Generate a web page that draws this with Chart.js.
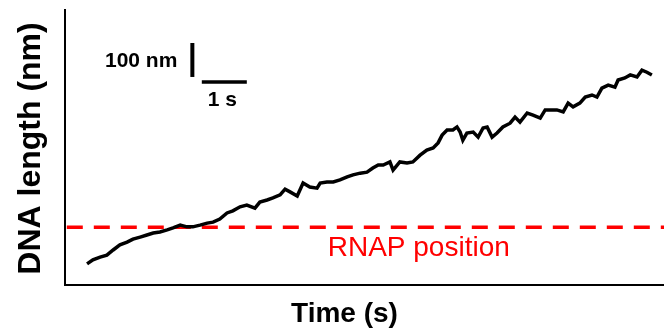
<!DOCTYPE html>
<html lang="en">
<head>
  <meta charset="UTF-8">
  <title>DNA length trace</title>
  <script src="https://cdn.jsdelivr.net/npm/chart.js"></script>
  <style>
    * {
      margin: 0;
      padding: 0;
      box-sizing: border-box;
    }
    body {
      background: #fff;
    }
    #traceChart {
      display: block;
    }
  </style>
</head>
<body>
  <canvas id="traceChart" width="664" height="329"></canvas>

  <script>
    // --- Data (time in s, DNA length in nm above the axis floor) ---
    const timeS = [
      0.49, 0.62, 0.78, 0.93, 1.07, 1.22, 1.38, 1.51, 1.67, 1.82, 1.96, 2.11,
      2.27, 2.40, 2.56, 2.71, 2.84, 3.00, 3.16, 3.29, 3.44, 3.60, 3.73, 3.89,
      4.04, 4.22, 4.33, 4.49, 4.62, 4.78, 4.89, 5.00, 5.16, 5.29, 5.44, 5.60,
      5.67, 5.82, 5.96, 6.11, 6.27, 6.40, 6.56, 6.71, 6.84, 6.96, 7.07, 7.22,
      7.29, 7.44, 7.60, 7.73, 7.89, 8.04, 8.18, 8.29, 8.38, 8.49, 8.62, 8.71,
      8.78, 8.84, 8.93, 9.07, 9.18, 9.29, 9.38, 9.49, 9.60, 9.73, 9.89, 10.00,
      10.11, 10.27, 10.40, 10.56, 10.67, 10.78, 10.93, 11.07, 11.18, 11.29, 11.44, 11.56,
      11.71, 11.82, 11.93, 12.07, 12.22, 12.29, 12.44, 12.56, 12.71, 12.82, 12.93, 13.04
    ];
    const lengthNm = [
      62, 74, 82, 88, 103, 118, 126, 135, 141, 147, 153, 156,
      162, 168, 176, 171, 171, 176, 182, 185, 194, 212, 218, 230,
      235, 226, 244, 250, 256, 265, 282, 274, 262, 300, 288, 285,
      300, 303, 303, 309, 318, 324, 329, 332, 344, 353, 353, 362,
      338, 362, 359, 362, 382, 397, 403, 418, 441, 456, 456, 465,
      450, 426, 447, 450, 435, 462, 465, 435, 447, 465, 476, 494,
      479, 506, 500, 491, 515, 515, 515, 509, 535, 524, 535, 553,
      559, 553, 579, 588, 582, 603, 609, 618, 612, 632, 626, 618
    ];

    // RNAP position (nm) shown as the dashed reference line
    const rnapNm = 170;

    // Scale bars: 1 s horizontal, 100 nm vertical
    const scaleBarTime = [3.04, 4.04];
    const scaleBarTimeAt = 597;
    const scaleBarLength = [612, 712];
    const scaleBarLengthAt = 2.83;

    // Axis ranges
    const timeRange = [0, 13.31];
    const lengthRange = [0, 809];

    const tracePoints = timeS.map((t, i) => ({ x: t, y: lengthNm[i] }));

    // Draws axis titles and annotation text from the scales
    const labelPlugin = {
      id: 'labels',
      afterDraw(chart) {
        const { ctx, chartArea, scales } = chart;
        const xs = scales.x;
        const ys = scales.y;
        ctx.save();

        // x title
        ctx.fillStyle = '#000';
        ctx.font = 'bold 28px "Liberation Sans", Arial, sans-serif';
        ctx.textAlign = 'center';
        ctx.textBaseline = 'alphabetic';
        ctx.fillText('Time (s)', xs.getPixelForValue(6.21), chartArea.bottom + 37);

        // y title
        ctx.save();
        ctx.translate(chartArea.left - 25, (chartArea.top + chartArea.bottom) / 2 + 1);
        ctx.rotate(-Math.PI / 2);
        ctx.font = 'bold 32px "Liberation Sans", Arial, sans-serif';
        ctx.fillText('DNA length (nm)', 0, 0);
        ctx.restore();

        // scale bar labels
        ctx.font = 'bold 21px "Liberation Sans", Arial, sans-serif';
        ctx.textAlign = 'right';
        ctx.fillText('100 nm', xs.getPixelForValue(scaleBarLengthAt) - 15,
          ys.getPixelForValue(scaleBarLength[0]) - 10);
        ctx.textAlign = 'center';
        ctx.fillText('1 s', xs.getPixelForValue((scaleBarTime[0] + scaleBarTime[1]) / 2) - 2,
          ys.getPixelForValue(scaleBarTimeAt) + 24);

        // RNAP label
        ctx.fillStyle = '#ff0000';
        ctx.font = '28px "Liberation Sans", Arial, sans-serif';
        ctx.fillText('RNAP position', xs.getPixelForValue(7.86), ys.getPixelForValue(rnapNm) + 29);

        ctx.restore();
      }
    };

    new Chart(document.getElementById('traceChart'), {
      type: 'line',
      data: {
        datasets: [
          {
            label: 'RNAP position',
            data: [{ x: timeRange[0] + 0.04, y: rnapNm }, { x: timeRange[1], y: rnapNm }],
            borderColor: '#ff0000',
            borderWidth: 3.5,
            borderDash: [16, 11],
            pointRadius: 0,
            order: 2
          },
          {
            label: 'DNA length',
            data: tracePoints,
            borderColor: '#000',
            borderWidth: 3.5,
            borderJoinStyle: 'miter',
            pointRadius: 0,
            tension: 0,
            order: 1
          },
          {
            label: '1 s',
            data: scaleBarTime.map(t => ({ x: t, y: scaleBarTimeAt })),
            borderColor: '#000',
            borderWidth: 3.5,
            pointRadius: 0
          },
          {
            label: '100 nm',
            data: scaleBarLength.map(v => ({ x: scaleBarLengthAt, y: v })),
            borderColor: '#000',
            borderWidth: 4,
            pointRadius: 0
          }
        ]
      },
      options: {
        responsive: false,
        animation: false,
        layout: { padding: { left: 65, top: 10, right: 0, bottom: 44 } },
        plugins: {
          legend: { display: false },
          tooltip: { enabled: false }
        },
        scales: {
          x: {
            type: 'linear',
            min: timeRange[0],
            max: timeRange[1],
            grid: { display: false, drawTicks: false },
            ticks: { display: false },
            border: { display: true, color: '#000', width: 2 }
          },
          y: {
            type: 'linear',
            min: lengthRange[0],
            max: lengthRange[1],
            grid: { display: false, drawTicks: false },
            ticks: { display: false },
            border: { display: true, color: '#000', width: 2 }
          }
        }
      },
      plugins: [labelPlugin]
    });
  </script>
</body>
</html>
